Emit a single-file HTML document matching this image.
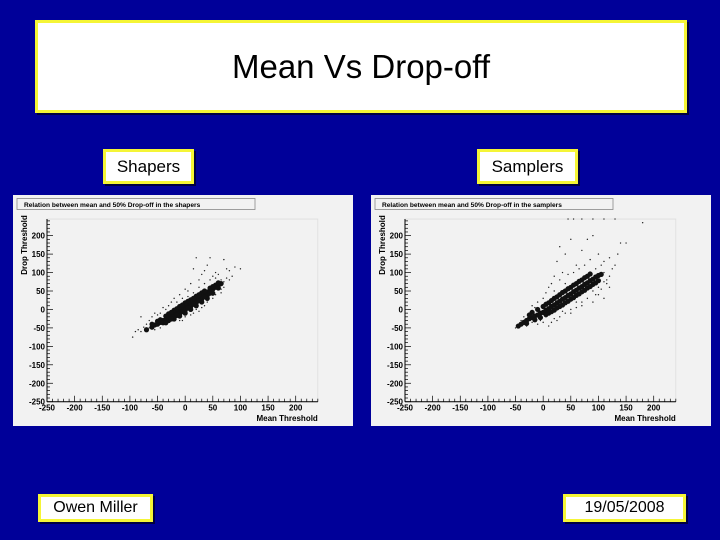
<!DOCTYPE html>
<html><head><meta charset="utf-8"><style>
body{margin:0;width:720px;height:540px;background:#000099;position:relative;overflow:hidden;font-family:"Liberation Sans",sans-serif}
.box{position:absolute;background:#fff;border:3px solid #f5f536;box-sizing:border-box;display:flex;align-items:center;justify-content:center;color:#000;box-shadow:2px 2px 0 #000040}
svg{position:absolute;left:0;top:0}
</style></head><body>
<div class="box" style="left:35px;top:20px;width:652px;height:93px;font-size:33px">Mean Vs Drop-off</div>
<div class="box" style="left:103px;top:149px;width:91px;height:35px;font-size:17px">Shapers</div>
<div class="box" style="left:477px;top:149px;width:101px;height:35px;font-size:17px">Samplers</div>
<div class="box" style="left:38px;top:494px;width:115px;height:28px;font-size:16px">Owen Miller</div>
<div class="box" style="left:563px;top:494px;width:123px;height:28px;font-size:16px">19/05/2008</div>
<svg id="s" width="720" height="540"></svg>
<script>
const shaperCore=[[-70,-55],[-60,-48],[-55,-42],[-50,-40],[-45,-35],[-40,-30],[-35,-28],[-30,-22],[-25,-18],[-20,-12],[-15,-8],[-10,-3],[-5,2],[0,8],[5,12],[10,18],[15,22],[20,28],[25,32],[30,37],[35,42],[40,47],[45,52],[50,55],[55,60],[60,65],[65,70],[-30,-12],[-20,-2],[-10,8],[0,18],[10,26],[20,36],[30,45],[-20,-20],[-10,-12],[0,-2],[10,8],[20,18],[30,28],[40,38],[-45,-28],[-35,-18],[-25,-8],[-15,2],[-5,12],[5,22],[15,30],[25,40],[35,50],[45,58],[55,66],[-40,-36],[-30,-30],[-20,-26],[-10,-18],[0,-10],[10,0],[20,10],[30,20],[40,30],[50,44],[60,58],[-5,-6],[5,4],[15,14],[25,24],[35,34],[45,44],[-25,-26],[-15,-16],[-35,-36],[50,62],[60,72],[-50,-32],[-60,-40]];
const shaperOut=[[-95,-75],[-85,-55],[-80,-20],[-75,-48],[-65,-30],[-50,-15],[-40,5],[-30,10],[-20,30],[-10,40],[0,55],[10,70],[15,110],[20,140],[30,95],[40,120],[45,140],[55,100],[60,95],[70,135],[75,110],[80,105],[90,115],[100,110],[-5,-30],[15,-10],[35,10],[50,30],[65,45],[80,80],[85,90],[25,80],[5,50],[-15,20],[-55,-55],[-45,-50],[-65,-50],[-70,-40],[-80,-60],[-60,-20],[-45,-10],[-35,0],[-25,20],[-5,30],[5,35],[15,45],[25,60],[35,70],[45,80],[55,85],[65,80],[70,75],[75,85],[-10,-30],[0,-20],[10,-15],[20,0],[30,5],[40,20],[55,40],[65,55],[70,60],[50,90],[35,105],[-55,-10],[-90,-60],[25,-5]];
const samplerCore=[[-45,-45],[-40,-40],[-35,-35],[-30,-30],[-25,-25],[-20,-22],[-15,-18],[-10,-15],[-5,-10],[0,-8],[5,-2],[10,2],[15,8],[20,12],[25,18],[30,22],[35,28],[40,32],[45,38],[50,42],[55,48],[60,52],[65,58],[70,62],[75,68],[80,72],[85,78],[90,82],[95,88],[100,92],[0,8],[10,18],[20,30],[30,40],[40,50],[50,60],[60,70],[70,80],[80,90],[10,-10],[20,-2],[30,8],[40,18],[50,28],[60,38],[70,48],[80,58],[90,68],[-20,-8],[-10,0],[5,14],[15,24],[25,34],[35,46],[45,56],[55,66],[65,76],[75,86],[85,96],[-15,-28],[-5,-22],[5,-14],[15,-6],[25,4],[35,12],[45,22],[55,32],[65,42],[75,52],[85,62],[95,72],[-25,-15],[-30,-38],[100,78],[105,95]];
const samplerOut=[[-50,-50],[-30,-45],[-10,-40],[0,-35],[10,-45],[20,-25],[30,-20],[50,0],[70,20],[90,20],[100,40],[110,30],[120,60],[0,30],[10,60],[20,90],[25,130],[30,170],[40,150],[50,190],[60,120],[70,160],[80,190],[90,200],[100,150],[110,130],[120,140],[130,120],[140,180],[150,180],[45,245],[55,245],[70,245],[90,245],[110,245],[130,245],[180,235],[35,100],[-20,10],[5,-20],[110,100],[115,80],[125,110],[-35,-20],[60,20],[100,60],[-40,-30],[-20,-35],[-5,-30],[15,-35],[25,-30],[40,-10],[60,5],[80,30],[95,40],[105,55],[115,70],[120,90],[-10,20],[5,45],[15,70],[30,80],[45,95],[55,100],[65,110],[75,120],[85,135],[95,110],[105,120],[135,150],[40,70],[20,50],[110,75],[90,50],[70,10],[50,-10],[-15,5],[35,-5]];
const tickLabels=[-250,-200,-150,-100,-50,0,50,100,150,200];
const titles=["Relation between mean and 50% Drop-off in the shapers","Relation between mean and 50% Drop-off in the samplers"];
const NS="http://www.w3.org/2000/svg",svg=document.getElementById('s');
function mk(t,a,p){const e=document.createElementNS(NS,t);for(const k in a)e.setAttribute(k,a[k]);(p||svg).appendChild(e);return e;}
function panel(ox,core,out,title,nm){
  const g=mk('g',{});
  
  
  const bg=mk('rect',{x:ox,y:195,width:340,height:231,fill:'#f2f2f2'},g);
  
  
  const X=v=>ox+34+(v+250)*0.5527, Y=v=>401.7-(v+250)*0.369;
  mk('rect',{x:X(-250),y:Y(245),width:X(240)-X(-250),height:Y(-250)-Y(245),fill:'none',stroke:'#ddd','stroke-width':0.8},g);
  mk('line',{x1:X(-250),y1:Y(-250),x2:X(240),y2:Y(-250),stroke:'#000','stroke-width':1},g);
  mk('line',{x1:X(-250),y1:Y(-250),x2:X(-250),y2:Y(245),stroke:'#000','stroke-width':1},g);
  for(let v=-250;v<=240;v+=10){const L=v%50===0?6:3;
    mk('line',{x1:X(v),y1:Y(-250),x2:X(v),y2:Y(-250)-L,stroke:'#000','stroke-width':0.7},g);
    mk('line',{x1:X(-250),y1:Y(v),x2:X(-250)+L,y2:Y(v),stroke:'#000','stroke-width':0.7},g);}
  tickLabels.forEach(v=>{
    const t=mk('text',{x:X(v),y:Y(-250)+9,'font-size':8,'font-weight':'bold','text-anchor':'middle',fill:'#000'},g);t.textContent=v;
    
    
    const u=mk('text',{x:X(-250)-2,y:Y(v)+3,'font-size':8,'font-weight':'bold','text-anchor':'end',fill:'#000'},g);u.textContent=v;
    
    });
  const xt=mk('text',{x:X(240),y:421,'font-size':8,'font-weight':'bold','text-anchor':'end'},g);xt.textContent='Mean Threshold';
  
  
  const yt=mk('text',{x:0,y:0,'font-size':8,'font-weight':'bold','text-anchor':'end',transform:`translate(${ox+14},${Y(250)-2}) rotate(-90)`},g);yt.textContent='Drop Threshold';
  
  
  mk('rect',{x:ox+4,y:198.5,width:238,height:11,fill:'#f2f2f2',stroke:'#888','stroke-width':0.8},g);
  const tt=mk('text',{x:ox+11,y:207,'font-size':6.6,'font-weight':'bold'},g);tt.textContent=title;
  
  
  core.forEach(p=>{const c=mk('circle',{cx:X(p[0]),cy:Y(p[1]),r:2.6,fill:'#111'},g);
    
    });
  out.forEach(p=>{const c=mk('circle',{cx:X(p[0]),cy:Y(p[1]),r:0.7,fill:'#222'},g);
    
    });
}
panel(13,shaperCore,shaperOut,titles[0],'shapers-scatter-plot');
panel(371,samplerCore,samplerOut,titles[1],'samplers-scatter-plot');
</script>
</body></html>
